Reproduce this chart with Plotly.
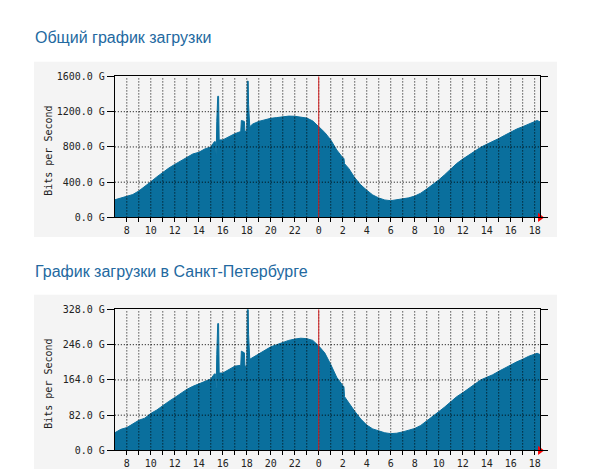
import plotly.graph_objects as go

# hours counted from midnight of the first day (24 = next midnight)
HOURS = [
    7.0, 7.5, 8.0, 8.5, 9.0, 9.5, 10.0, 10.5, 11.0, 11.5, 12.0, 12.5, 13.0, 13.5,
    14.0, 14.5, 15.0, 15.3, 15.38, 15.4, 15.45, 15.5, 15.58, 15.65, 15.7, 16.0,
    16.5, 17.0, 17.5, 17.55, 17.8, 17.85, 18.0, 18.05, 18.12, 18.15, 18.25, 18.5,
    19.0, 19.5, 20.0, 20.5, 21.0, 21.5, 22.0, 22.5, 23.0, 23.5, 24.0, 24.5, 25.0,
    25.5, 26.0, 26.1, 26.15, 26.5, 27.0, 27.5, 28.0, 28.5, 29.0, 29.5, 30.0, 30.5,
    31.0, 31.5, 32.0, 32.5, 33.0, 33.5, 34.0, 34.5, 35.0, 35.5, 36.0, 36.5, 37.0,
    37.5, 38.0, 38.5, 39.0, 39.5, 40.0, 40.5, 41.0, 41.5, 42.0, 42.2, 42.45,
]

# total traffic, Gbit/s
TOTAL = [
    200, 220, 240, 260, 300, 347, 404, 460, 515, 560, 602, 640, 678, 720,
    739, 777, 800, 860, 860, 700, 700, 1090, 1375, 1375, 880, 880,
    918, 950, 975, 1100, 1090, 975, 980, 1547, 1547, 1280, 1030, 1060,
    1090, 1110, 1125, 1133, 1143, 1150, 1148, 1142, 1128, 1095, 1032, 965, 880,
    766, 678, 670, 610, 556, 450, 370, 309, 255, 221, 198, 190, 198,
    210, 222, 242, 275, 322, 370, 425, 485, 547, 612, 662, 706, 753,
    796, 830, 860, 895, 932, 972, 1003, 1030, 1060, 1085, 1100, 1085,
]

# Saint Petersburg traffic, Gbit/s
SPB = [
    41, 49, 53, 61, 70, 75, 86, 94, 105, 114, 123, 133, 142, 149,
    155, 161, 166, 178, 178, 145, 145, 223, 295, 295, 180, 180,
    188, 196, 198, 231, 227, 196, 196, 331, 331, 270, 212, 216,
    224, 234, 241, 246, 251, 256, 259, 261, 260, 256, 243, 227, 200,
    170, 151, 148, 125, 110, 91, 73, 59, 50, 45, 41, 39, 40,
    43, 47, 51, 58, 68, 80, 90, 101, 113, 125, 134, 144, 155,
    164, 170, 176, 184, 192, 199, 206, 212, 219, 224, 226, 223,
]

X_TICKS = list(range(8, 43))
X_LABELS = ["8", "", "10", "", "12", "", "14", "", "16", "", "18", "", "20", "",
            "22", "", "0", "", "2", "", "4", "", "6", "", "8", "", "10", "",
            "12", "", "14", "", "16", "", "18"]

TOTAL_TICKS = [0, 400, 800, 1200, 1600]
TOTAL_LABELS = ["0.0 G", "400.0 G", "800.0 G", "1200.0 G", "1600.0 G"]
SPB_TICKS = [0, 82, 164, 246, 328]
SPB_LABELS = ["0.0 G", "82.0 G", "164.0 G", "246.0 G", "328.0 G"]

TITLES = ["Общий график загрузки", "График загрузки в Санкт-Петербурге"]

X_START, X_END = 7.0, 42.45
MIDNIGHT = 24

W, H = 591, 474
FILL = "#0a6f9d"
MONO = "DejaVu Sans Mono, monospace"


def px(v):
    return v / W


def py(v):
    return (H - v) / H


fig = go.Figure()

panels = [
    # (series, ticks, labels, plot top/bottom px, panel top/bottom px, title y px)
    (TOTAL, TOTAL_TICKS, TOTAL_LABELS, 73, 217, 58, 237, 33),
    (SPB, SPB_TICKS, SPB_LABELS, 311, 455, 296, 474, 272),
]

for i, (vals, yt, yl, top, bot, ptop, pbot, ty) in enumerate(panels):
    n = "" if i == 0 else str(i + 1)
    xa, ya = "x" + n, "y" + n

    fig.add_trace(go.Scatter(
        x=HOURS, y=vals, mode="lines", fill="tozeroy",
        line=dict(color=FILL, width=1), fillcolor=FILL,
        xaxis=xa, yaxis=ya, hoverinfo="skip", showlegend=False,
    ))
    # red arrow at the end of the time axis
    fig.add_trace(go.Scatter(
        x=[X_END], y=[0], mode="markers", cliponaxis=False,
        marker=dict(symbol="triangle-right", color="red", size=8),
        xaxis=xa, yaxis=ya, hoverinfo="skip", showlegend=False,
    ))

    fig.update_layout({
        "xaxis" + n: dict(
            domain=[px(115), px(541)], range=[X_START, X_END], anchor=ya,
            tickvals=X_TICKS, ticktext=X_LABELS, ticks="outside", ticklen=4,
            tickcolor="black", showgrid=False, zeroline=False,
            showline=True, linecolor="black", linewidth=1, mirror=True,
            tickfont=dict(family=MONO, size=10, color="#222"),
        ),
        "yaxis" + n: dict(
            domain=[py(bot), py(top)], range=[0, yt[-1]], anchor=xa,
            tickvals=yt, ticktext=yl, ticks="outside", ticklen=7,
            tickcolor="black", showgrid=False, zeroline=False,
            showline=True, linecolor="black", linewidth=1, mirror="ticks",
            tickfont=dict(family=MONO, size=10, color="#222"),
        ),
    })

    # grey panel behind the graph
    fig.add_shape(type="rect", xref="paper", yref="paper",
                  x0=px(34), x1=px(558), y0=py(pbot), y1=py(ptop),
                  fillcolor="#f4f4f4", line_width=0, layer="below")

    # dotted grid drawn over the filled area
    for h in X_TICKS:
        fig.add_shape(type="line", xref=xa, yref=ya + " domain",
                      x0=h, x1=h, y0=0, y1=1, layer="above",
                      line=dict(color="black", width=1, dash="1px,2px"))
    for v in yt[1:-1]:
        fig.add_shape(type="line", xref=xa + " domain", yref=ya,
                      x0=0, x1=1, y0=v, y1=v, layer="above",
                      line=dict(color="black", width=1, dash="1px,2px"))
    # midnight marker
    fig.add_shape(type="line", xref=xa, yref=ya + " domain",
                  x0=MIDNIGHT, x1=MIDNIGHT, y0=0, y1=1, layer="above",
                  line=dict(color="#d42020", width=1))

    fig.add_annotation(text=TITLES[i], xref="paper", yref="paper",
                       x=px(33), y=py(ty), xanchor="left", yanchor="middle",
                       showarrow=False,
                       font=dict(family="Arial, Liberation Sans", size=16,
                                 color="#23699f"))
    fig.add_annotation(text="Bits per Second", xref="paper", yref="paper",
                       x=px(49), y=py((top + bot) / 2 + 4), textangle=-90,
                       xanchor="center", yanchor="middle", showarrow=False,
                       font=dict(family=MONO, size=10, color="#222"))

fig.update_layout(
    width=W, height=H,
    margin=dict(l=0, r=0, t=0, b=0),
    paper_bgcolor="white", plot_bgcolor="#f4f4f4",
)

# drop the browser's default page margin so the figure sits at 0,0
fig.write_html("out.html", config={"displayModeBar": False},
               post_script="document.body.style.margin='0';")
